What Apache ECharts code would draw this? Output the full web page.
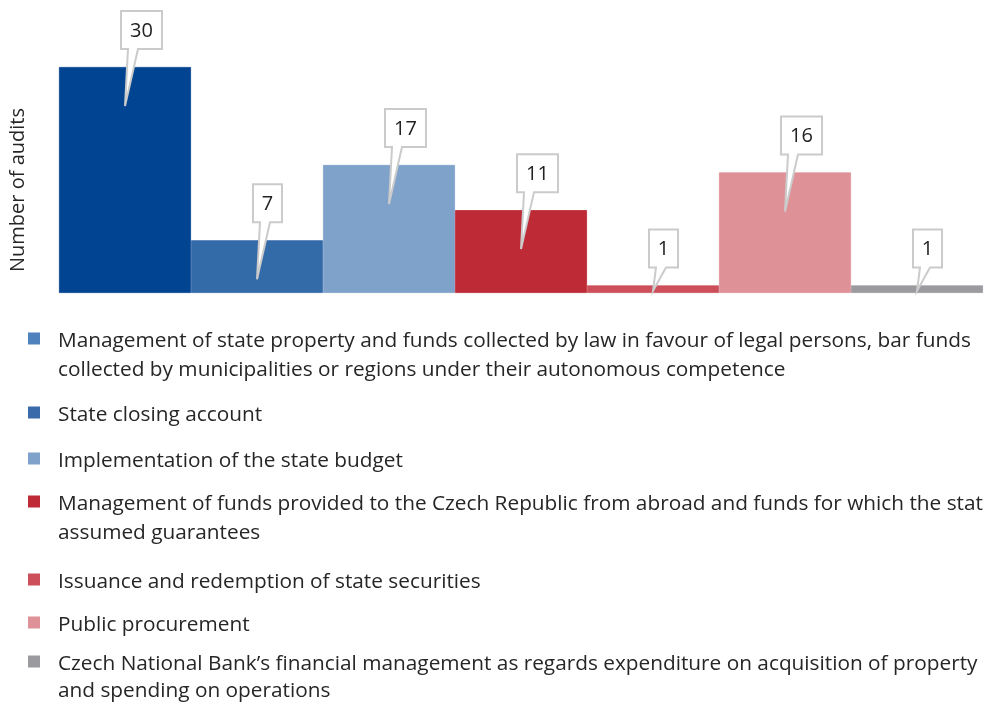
<!DOCTYPE html>
<html>
<head>
<meta charset="utf-8">
<script src="https://cdn.jsdelivr.net/npm/echarts@6/dist/echarts.min.js"></script>
<style>
  html, body { margin: 0; padding: 0; background: #fff; }
  #audits_bar { width: 984px; height: 704px; }
</style>
</head>
<body>
<div id="audits_bar"></div>
<script>
// categories (legend entries) and number of audits
var categories = [
    'Management of state property and funds collected by law in favour of legal persons, bar funds collected by municipalities or regions under their autonomous competence',
    'State closing account',
    'Implementation of the state budget',
    'Management of funds provided to the Czech Republic from abroad and funds for which the state assumed guarantees',
    'Issuance and redemption of state securities',
    'Public procurement',
    'Czech National Bank’s financial management as regards expenditure on acquisition of property and spending on operations'
];
var audits = [30, 7, 17, 11, 1, 16, 1];

// how the legend text wraps in the original
var legendLines = [
    ['Management of state property and funds collected by law in favour of legal persons, bar funds', 'collected by municipalities or regions under their autonomous competence'],
    ['State closing account'],
    ['Implementation of the state budget'],
    ['Management of funds provided to the Czech Republic from abroad and funds for which the state', 'assumed guarantees'],
    ['Issuance and redemption of state securities'],
    ['Public procurement'],
    ['Czech National Bank’s financial management as regards expenditure on acquisition of property', 'and spending on operations']
];

var barColors = ['#004492', '#336aa8', '#7fa2cb', '#be2b36', '#cc4f5a', '#df9198', '#9b9b9f'];
var legendColors = ['#4f81bd', '#3a6aa9', '#7fa2cb', '#be2b36', '#cc4f5a', '#df9198', '#9b9b9f'];

var legendTop = [327, 401, 447, 490, 568, 611, 651];
var legendLineH = [29, 29, 29, 29, 29, 29, 27];

var FONT = 'Open Sans';

var myChart = echarts.init(document.getElementById('audits_bar'));

// square icon sitting on the first text line (degenerate points keep the box size)
function legendIcon(h, lineH) {
    var y = lineH / 2 - 3 - 6;
    return 'path://M0,0 L0.01,0 M25,' + h + ' L24.99,' + h +
        ' M0,' + y + ' L12,' + y + ' L12,' + (y + 12) + ' L0,' + (y + 12) + ' Z';
}

var series = [];
var legends = [];
for (var i = 0; i < categories.length; i++) {
    var d = [];
    for (var j = 0; j < categories.length; j++) {
        d.push(j === i ? audits[i] : '-');
    }
    series.push({
        name: categories[i],
        type: 'bar',
        stack: 'all',
        barCategoryGap: '0%',
        itemStyle: { color: barColors[i], borderColor: barColors[i], borderWidth: 0.8 },
        emphasis: { disabled: true },
        data: d
    });
    var h = legendLines[i].length * legendLineH[i];
    legends.push({
        orient: 'vertical',
        left: 28,
        top: legendTop[i],
        padding: 0,
        itemWidth: 25,
        itemHeight: h,
        selectedMode: false,
        data: [{
            name: categories[i],
            icon: legendIcon(h, legendLineH[i]),
            itemStyle: { color: legendColors[i], borderWidth: 0 }
        }],
        formatter: (function (k) {
            return function () { return legendLines[k].join('\n'); };
        })(i),
        textStyle: {
            fontFamily: FONT,
            fontSize: 20.8,
            color: '#262626',
            lineHeight: legendLineH[i]
        }
    });
}

// value callouts
function renderCallout(params, api) {
    var idx = api.value(0);
    var v = api.value(1);
    var top = api.coord([idx, v]);
    var base = api.coord([idx, 0]);
    var cx = top[0], ty = top[1];
    var txt = String(v);
    var w = 17 + 12 * txt.length, h = 38;
    var left = cx - 4;
    var bottom = ty - 18;
    var boxTop = bottom - h;
    var tipY = Math.min(ty + 39, base[1] - 2);
    var pts = [
        [left, boxTop], [left + w, boxTop], [left + w, bottom],
        [left + 17, bottom], [cx, tipY], [left + 7, bottom], [left, bottom]
    ];
    return {
        type: 'group',
        children: [{
            type: 'polygon',
            shape: { points: pts },
            style: { fill: '#fff', stroke: '#cbcbcb', lineWidth: 2, lineJoin: 'miter' }
        }, {
            type: 'text',
            style: {
                text: txt,
                x: left + w / 2,
                y: boxTop + h / 2 + 1,
                align: 'center',
                verticalAlign: 'middle',
                fontFamily: FONT,
                fontSize: 20,
                fill: '#222'
            }
        }]
    };
}

var calloutData = [];
for (var c = 0; c < audits.length; c++) {
    calloutData.push([c, audits[c]]);
}

series.push({
    type: 'custom',
    name: 'callouts',
    renderItem: renderCallout,
    clip: false,
    silent: true,
    z: 5,
    encode: { x: 0, y: 1 },
    data: calloutData
});

var option = {
    animation: false,
    textStyle: { fontFamily: FONT },
    grid: { left: 56, right: 1, top: 67, bottom: 411 },
    legend: legends,
    xAxis: {
        type: 'category',
        data: categories,
        axisLine: { show: false },
        axisTick: { show: false },
        axisLabel: { show: false }
    },
    yAxis: {
        type: 'value',
        min: 0,
        max: 30,
        name: 'Number of audits',
        nameLocation: 'middle',
        nameGap: 31,
        nameTextStyle: { fontFamily: FONT, fontSize: 20, color: '#262626', padding: [0, 20, 0, 0] },
        axisLine: { show: false },
        axisTick: { show: false },
        axisLabel: { show: false },
        splitLine: { show: false }
    },
    series: series
};

myChart.setOption(option);
</script>
</body>
</html>
